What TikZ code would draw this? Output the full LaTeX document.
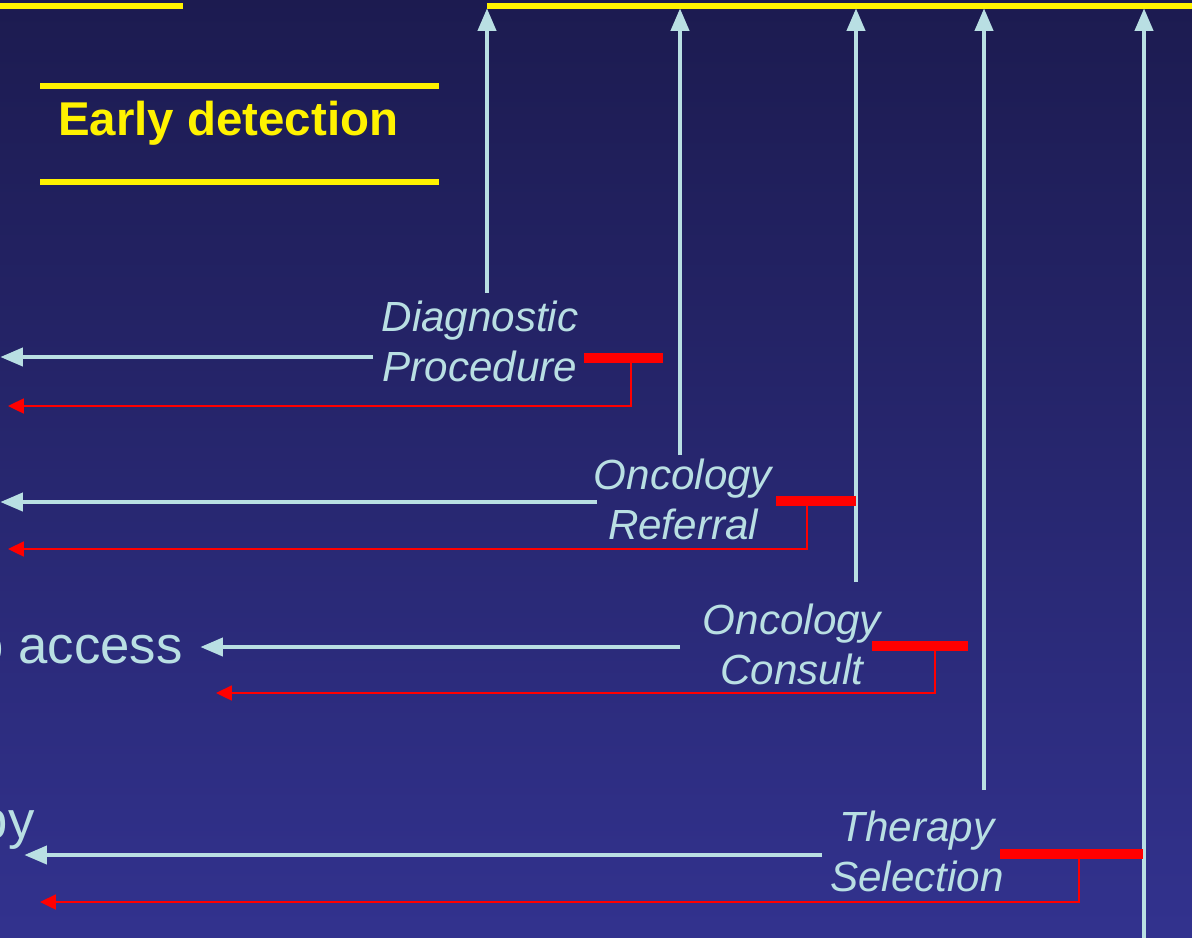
\documentclass[tikz,border=0pt]{standalone}
\usepackage{fontspec}
\setmainfont{Liberation Sans}
\usetikzlibrary{arrows.meta}
\definecolor{lblue}{RGB}{185,223,227}
\definecolor{bgtop}{RGB}{28,27,80}
\definecolor{bgbot}{RGB}{50,50,142}
\begin{document}
\begin{tikzpicture}[x=0.02cm,y=-0.02cm,
  flow/.style={draw=lblue,line width=2.8pt,-{Triangle[length=13pt,width=10pt]}},
  back/.style={draw=red,line width=1.1pt,-{Triangle[length=9pt,width=8.5pt]}},
  redbar/.style={draw=red,line width=6.2pt},
  yline/.style={draw=yellow,line width=3.4pt},
  lbl/.style={text=lblue,align=center,font=\fontsize{24}{28.4}\selectfont\itshape},
  side/.style={text=lblue,inner sep=0pt,font=\fontsize{30}{36}\selectfont}]
\useasboundingbox (0,0) rectangle (1192,937);
\clip (0,0) rectangle (1192,937);
\shade[top color=bgtop,bottom color=bgbot] (0,0) rectangle (1192,937);

\path[yline] (0,6) -- (183,6);
\path[yline] (40,86) -- (439,86);
\path[yline] (40,182) -- (439,182);
\path[yline] (487,6) -- (1192,6);
\node[anchor=base west,text=yellow,font=\fontsize{27}{32}\selectfont\bfseries] (ed) at (52,135) {Early detection};

\node[lbl,anchor=base] (dp) at (480,381) {Diagnostic\\Procedure};
\node[lbl,anchor=base] (orf) at (683,539) {Oncology\\Referral};
\node[lbl,anchor=base] (oc) at (792,684) {Oncology\\Consult};
\node[lbl,anchor=base] (ts) at (917,891) {Therapy\\Selection};

\node[side,anchor=base east] (acc) at (183,663) {o access};
\node[side,anchor=base east] (py) at (35,838) {py};

\coordinate (t1) at (487,8);
\coordinate (t2) at (680,8);
\coordinate (t3) at (856,8);
\coordinate (t4) at (984,8);
\coordinate (t5) at (1144,8);
\path[flow] (487,293) -- (t1);
\path[flow] (680,455) -- (t2);
\path[flow] (856,582) -- (t3);
\path[flow] (984,790) -- (t4);
\path[flow] (1144,940) -- (t5);

\coordinate (o1) at (0,357);
\coordinate (o2) at (0,502);
\coordinate (o3) at (200,647);
\coordinate (o4) at (24,855);
\path[flow] (373,357) -- (o1);
\path[flow] (597,502) -- (o2);
\path[flow] (680,647) -- (o3);
\path[flow] (822,855) -- (o4);

\path[redbar] (584,358) -- (663,358);
\path[redbar] (776,501) -- (856,501);
\path[redbar] (872,646) -- (968,646);
\path[redbar] (1000,854) -- (1143,854);

\coordinate (r1) at (8,406);
\coordinate (r2) at (8,549);
\coordinate (r3) at (216,693);
\coordinate (r4) at (40,902);
\path[back] (631,362) |- (r1);
\path[back] (807,505) |- (r2);
\path[back] (935,650) |- (r3);
\path[back] (1079,859) |- (r4);
\end{tikzpicture}
\end{document}
